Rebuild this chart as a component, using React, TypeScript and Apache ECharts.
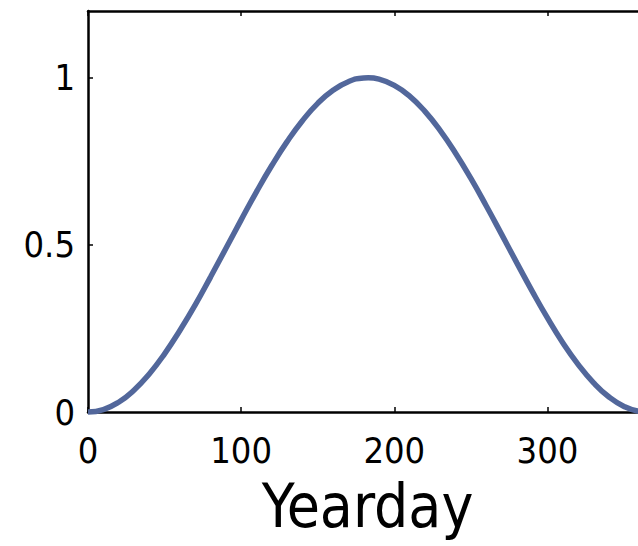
import React, { useEffect, useRef } from "react";
import * as echarts from "echarts";

const yearday = [0, 10, 20, 30, 40, 50, 60, 70, 80, 90, 100, 110, 120, 130, 140, 150, 160, 170, 180, 183, 190, 200, 210, 220, 230, 240, 250, 260, 270, 280, 290, 300, 310, 320, 330, 340, 350, 360, 365];
const values = [0, 0.0074, 0.0293, 0.0652, 0.1139, 0.1741, 0.2441, 0.3205, 0.4038, 0.4892, 0.575, 0.6588, 0.7375, 0.8091, 0.8717, 0.9236, 0.9626, 0.9885, 0.9995, 1.0, 0.9959, 0.9774, 0.9452, 0.8995, 0.8419, 0.7743, 0.6989, 0.6172, 0.5323, 0.4463, 0.3619, 0.2815, 0.2074, 0.1427, 0.088, 0.0456, 0.0166, 0.0018, 0];
const xTicks = [0, 100, 200, 300];
const yTicks = [0, 0.5, 1];

const FONT = "'Liberation Sans Narrow', 'DejaVu Sans Condensed', 'Liberation Sans', sans-serif";

export default function App() {
  const ref = useRef<HTMLDivElement>(null);
  useEffect(() => {
    if (!ref.current) return;
    const chart = echarts.init(ref.current, null, { renderer: "svg" });
    const axisLine = { show: true, lineStyle: { color: "#000", width: 2.5 } };
    const axisTick = { show: true, inside: true, length: 5, lineStyle: { color: "#000", width: 1.5 } };
    chart.setOption({
      animation: false,
      backgroundColor: "#fff",
      grid: { left: 88, top: 11, right: -9, bottom: 134, containLabel: false, outerBoundsMode: "none" },
      xAxis: [
        {
          type: "value",
          min: 0,
          max: 365,
          interval: 100,
          axisLine: { ...axisLine, onZero: false },
          axisTick: { ...axisTick, customValues: xTicks },
          splitLine: { show: false },
          axisLabel: {
            color: "#000",
            fontSize: 36,
            fontFamily: FONT,
            margin: 20,
            customValues: xTicks,
            formatter: (v: number) => String(v),
          },
          name: "Yearday",
          nameLocation: "middle",
          nameGap: 64,
          nameTextStyle: { color: "#000", fontSize: 60, fontFamily: FONT },
        },
        {
          type: "value",
          position: "top",
          min: 0,
          max: 365,
          interval: 100,
          axisLine: { ...axisLine, onZero: false },
          axisTick: { ...axisTick, customValues: xTicks },
          axisLabel: { show: false },
          splitLine: { show: false },
        },
      ],
      yAxis: [
        {
          type: "value",
          min: 0,
          max: 1.2,
          interval: 0.5,
          axisLine: { ...axisLine, onZero: false },
          axisTick: { ...axisTick, customValues: yTicks },
          splitLine: { show: false },
          axisLabel: {
            color: "#000",
            fontSize: 36,
            fontFamily: FONT,
            margin: 13,
            customValues: yTicks,
            formatter: (v: number) => String(v),
          },
        },
        {
          type: "value",
          position: "right",
          min: 0,
          max: 1.2,
          interval: 0.5,
          axisLine: { ...axisLine, onZero: false },
          axisTick: { ...axisTick, customValues: yTicks },
          axisLabel: { show: false },
          splitLine: { show: false },
        },
      ],
      series: [
        {
          type: "line",
          data: yearday.map((d, i) => [d, values[i]]),
          smooth: true,
          showSymbol: false,
          symbol: "none",
          clip: false,
          lineStyle: { color: "#52679b", width: 5.5 },
        },
      ],
    });
    return () => chart.dispose();
  }, []);
  return (
    <div
      ref={ref}
      style={{ position: "fixed", left: 0, top: 0, width: 638, height: 546, background: "#fff" }}
    />
  );
}
